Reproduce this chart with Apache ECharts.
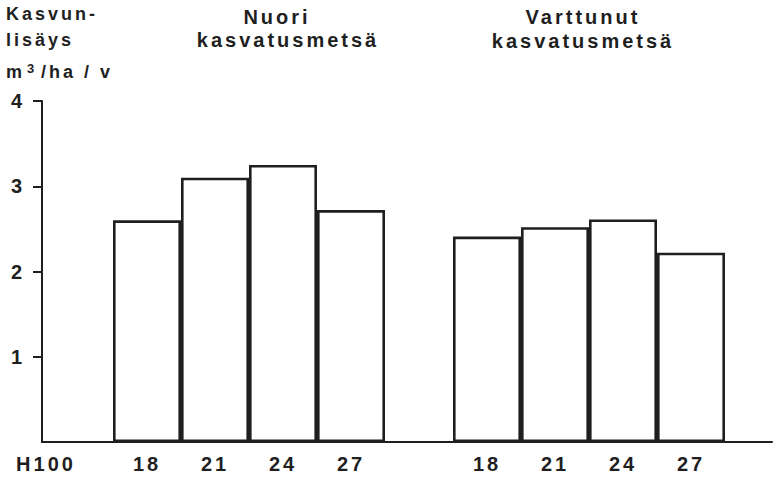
<!DOCTYPE html>
<html>
<head>
<meta charset="utf-8">
<script src="https://cdn.jsdelivr.net/npm/echarts@6/dist/echarts.min.js"></script>
<style>
html,body{margin:0;padding:0;background:#fff}
#c{width:774px;height:477px}
#c text{letter-spacing:3px}
</style>
</head>
<body>
<div id="c"></div>
<script>
// Data
const categories = ['', '18', '21', '24', '27', '', '18', '21', '24', '27'];
const nuoriValues = [2.6, 3.1, 3.25, 2.72];
const varttunutValues = [2.41, 2.52, 2.61, 2.22];
const yTicks = [1, 2, 3, 4];
const yTitleLines = ['Kasvun-', 'lisäys'];
const yUnitParts = ['m', '3', '/ha / v'];
const groupTitles = [['Nuori', 'kasvatusmetsä'], ['Varttunut', 'kasvatusmetsä']];
const xTitle = 'H100';

const ink = '#1f1f1f';
const FF = '"Liberation Sans", Arial, Helvetica, sans-serif';
const barData = ['-'].concat(nuoriValues, ['-'], varttunutValues);

const chart = echarts.init(document.getElementById('c'), null, {renderer: 'svg'});

function txt(text, x, y, size, align) {
  return {
    type: 'text', x: x, y: y, silent: true,
    style: {text: text, font: 'bold ' + size + 'px ' + FF, fill: ink,
            textAlign: align, textVerticalAlign: 'middle'}
  };
}

const option = {
  animation: false,
  backgroundColor: '#fff',
  grid: [
    {left: 45, width: 680, top: 101, bottom: 35, outerBoundsMode: 'none', containLabel: false},
    {left: 42, right: 2, top: 101, bottom: 35, outerBoundsMode: 'none', containLabel: false}
  ],
  xAxis: [
    {
      type: 'category', gridIndex: 0, data: categories,
      axisLine: {show: false}, axisTick: {show: false},
      axisLabel: {interval: 0, margin: 12, color: ink, fontSize: 20, fontWeight: 'bold', fontFamily: FF},
      splitLine: {show: false}
    },
    {
      type: 'value', gridIndex: 1, min: 0, max: 1, position: 'bottom',
      axisLine: {show: true, onZero: false, lineStyle: {color: ink, width: 2}},
      axisTick: {show: false}, axisLabel: {show: false}, splitLine: {show: false}
    }
  ],
  yAxis: [
    {
      type: 'value', gridIndex: 0, min: 0, max: 4, interval: 1, offset: 3,
      axisLine: {show: true, lineStyle: {color: ink, width: 2}},
      axisTick: {show: true, inside: false, length: 9, customValues: yTicks, lineStyle: {color: ink, width: 2}},
      axisLabel: {margin: 17, customValues: yTicks, color: ink, fontSize: 20, fontWeight: 'bold', fontFamily: FF},
      splitLine: {show: false}
    },
    {
      type: 'value', gridIndex: 1, min: 0, max: 1, show: false
    }
  ],
  series: [
    {
      type: 'bar', xAxisIndex: 0, yAxisIndex: 0,
      data: barData,
      barCategoryGap: '0%',
      itemStyle: {color: '#ffffff', borderColor: ink, borderWidth: 2.6},
      emphasis: {disabled: true}
    }
  ],
  graphic: [
    txt(yTitleLines[0], 6, 14, 18, 'left'),
    txt(yTitleLines[1], 6, 40, 18, 'left'),
    txt(yUnitParts[0], 6, 72, 18, 'left'),
    txt(yUnitParts[1], 27, 68, 13, 'left'),
    txt(yUnitParts[2], 41, 72, 18, 'left'),
    txt(groupTitles[0][0], 277, 16.5, 20, 'center'),
    txt(groupTitles[0][1], 288, 40, 20, 'center'),
    txt(groupTitles[1][0], 583, 17, 20, 'center'),
    txt(groupTitles[1][1], 583, 41, 20, 'center'),
    txt(xTitle, 46, 464, 20, 'center')
  ]
};
chart.setOption(option);
</script>
</body>
</html>
